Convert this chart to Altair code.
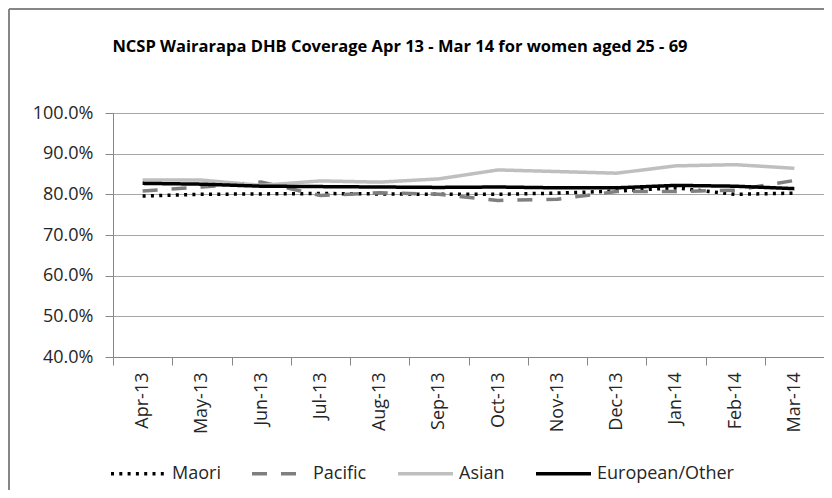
import altair as alt
import pandas as pd

months = ["Apr-13", "May-13", "Jun-13", "Jul-13", "Aug-13", "Sep-13",
          "Oct-13", "Nov-13", "Dec-13", "Jan-14", "Feb-14", "Mar-14"]
series = ["Maori", "Pacific", "Asian", "European/Other"]
maori = [79.6, 80.0, 80.1, 80.2, 80.1, 80.0, 80.0, 80.3, 80.8, 81.6, 80.0, 80.3]
pacific = [80.8, 81.8, 83.0, 79.7, 80.4, 80.0, 78.5, 78.8, 80.7, 80.7, 81.0, 83.4]
asian = [83.5, 83.5, 82.2, 83.3, 83.0, 83.8, 86.0, 85.6, 85.2, 87.0, 87.3, 86.4]
european = [82.7, 82.5, 82.0, 81.9, 81.8, 81.7, 81.8, 81.6, 81.6, 82.2, 82.0, 81.4]
y_ticks = [0.4, 0.5, 0.6, 0.7, 0.8, 0.9, 1.0]
title_text = ["NCSP Wairarapa  DHB Coverage Apr 13 - Mar 14 for women aged 25 - 69"]

rows = []
for name, vals in zip(series, [maori, pacific, asian, european]):
    for m, v in zip(months, vals):
        rows.append({"Month": m, "Group": name, "Coverage": v / 100.0})
df = pd.DataFrame(rows)

FONT = "Open Sans"
colors = ["#000000", "#7F7F7F", "#BFBFBF", "#000000"]
dashes = [[3, 5.3], [15, 14], [1, 0], [1, 0]]

x_enc = alt.X("Month:N", sort=months,
              scale=alt.Scale(domain=months, paddingInner=0, paddingOuter=0),
              axis=alt.Axis(title=None, labelAngle=270, labelAlign="right",
                            labelBaseline="middle", labelPadding=7, tickSize=8,
                            tickBand="extent", labelFont=FONT, labelFontSize=18,
                            labelColor="#262626", domainColor="#878787",
                            tickColor="#878787", grid=False))
y_enc = alt.Y("Coverage:Q",
              scale=alt.Scale(domain=[0.4, 1.0], nice=False, zero=False),
              axis=alt.Axis(title=None, format=".1%", values=y_ticks, tickSize=8,
                            labelPadding=12, labelFont=FONT, labelFontSize=18,
                            labelColor="#262626", domainColor="#878787",
                            tickColor="#878787", gridColor="#A6A6A6", grid=True))
color_enc = alt.Color("Group:N",
                      scale=alt.Scale(domain=series, range=colors),
                      legend=alt.Legend(title=None, orient="none", legendX=-4,
                                        legendY=331, direction="horizontal",
                                        symbolType="stroke", symbolSize=3025,
                                        symbolStrokeWidth=3.5, labelOffset=4,
                                        columnPadding=24, labelFont=FONT,
                                        labelFontSize=18, labelColor="#262626"))
dash_enc = alt.StrokeDash("Group:N", scale=alt.Scale(domain=series, range=dashes),
                          legend=None)

layers = []
for name in series:
    layers.append(
        alt.Chart(df).transform_filter(alt.datum.Group == name)
        .mark_line(strokeWidth=3.5)
        .encode(x=x_enc, y=y_enc, color=color_enc, strokeDash=dash_enc)
    )

frame = pd.DataFrame({"k": [0]})
left_border = alt.Chart(frame).mark_rule(color="#868686", strokeWidth=2).encode(
    x=alt.value(-104), y=alt.value(-104), y2=alt.value(377))
top_border = alt.Chart(frame).mark_rule(color="#868686", strokeWidth=2).encode(
    x=alt.value(-104), x2=alt.value(711), y=alt.value(-104))
title_mark = alt.Chart(pd.DataFrame({"t": title_text})).mark_text(
    font=FONT, fontSize=16.5, fontWeight="bold", color="#000000",
    align="center", baseline="middle").encode(
    text="t:N", x=alt.value(287), y=alt.value(-66))

chart = alt.layer(left_border, top_border, title_mark, *layers).properties(
    width=711, height=244,
    padding={"left": 105, "top": 105, "right": 0, "bottom": 133},
    autosize=alt.AutoSizeParams(type="none"),
).configure_view(stroke="#A6A6A6", strokeWidth=1).configure(background="white")

chart.save("out.html", embed_options={"renderer": "svg", "actions": False})
